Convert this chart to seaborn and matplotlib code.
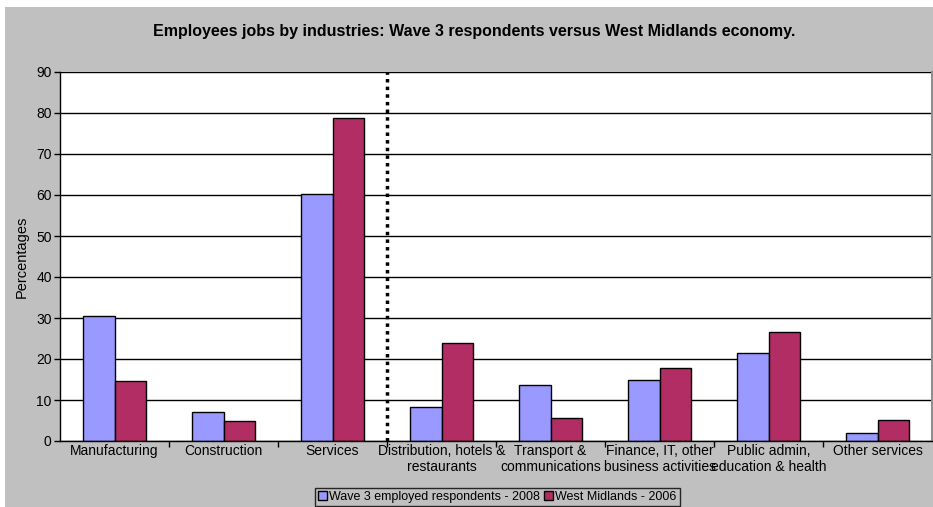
import seaborn as sns
import matplotlib.pyplot as plt
import pandas as pd
from matplotlib.patches import Rectangle

industries = ["Manufacturing", "Construction", "Services", "Distribution, hotels &\nrestaurants",
              "Transport &\ncommunications", "Finance, IT, other\nbusiness activities",
              "Public admin,\neducation & health", "Other services"]
wave3 = [30.6, 7.1, 60.3, 8.4, 13.7, 14.9, 21.5, 1.9]
west_mid = [14.7, 4.9, 78.9, 23.8, 5.6, 17.9, 26.6, 5.1]
series_names = ["Wave 3 employed respondents - 2008", "West Midlands - 2006"]

df = pd.DataFrame({
    "industry": industries * 2,
    "value": wave3 + west_mid,
    "series": [series_names[0]] * len(industries) + [series_names[1]] * len(industries),
})

sns.set_style("white")
plt.rcParams['font.family'] = ['Liberation Sans', 'DejaVu Sans']
plt.rcParams['text.color'] = 'black'
plt.rcParams['axes.labelcolor'] = 'black'
plt.rcParams['xtick.color'] = 'black'
plt.rcParams['ytick.color'] = 'black'

fig = plt.figure(figsize=(9.33, 5.07), dpi=100, facecolor="white")
# grey chart area, white strip on top and left like the source
fig.patches.append(Rectangle((5 / 933, 0), 1, 500 / 507, transform=fig.transFigure,
                             facecolor="#c0c0c0", edgecolor="none", zorder=-10))
ax = fig.add_axes([60 / 933, 66 / 507, 872 / 933, 369 / 507])
ax.set_zorder(1)
ax.set_facecolor("white")

sns.barplot(data=df, x="industry", y="value", hue="series", ax=ax,
            palette=["#9999ff", "#b22d64"], width=0.58, edgecolor="black",
            linewidth=1, saturation=1)

ax.set_ylim(0, 90)
ax.set_yticks(range(0, 91, 10))
ax.set_xlim(-0.5, len(industries) - 0.5)
ax.grid(axis="y", color="black", linewidth=1)
ax.set_axisbelow(True)
ax.spines["top"].set_visible(False)
ax.spines["right"].set_color("#909090")
ax.spines["right"].set_linewidth(1.5)
for s in ["left", "bottom"]:
    ax.spines[s].set_color("black")
    ax.spines[s].set_linewidth(1)

ax.tick_params(axis="y", length=4, width=1, labelsize=10, pad=2, left=True)
ax.tick_params(axis="x", which="major", length=0, labelsize=10, pad=2)
ax.set_xticks([i + 0.5 for i in range(len(industries) - 1)], minor=True)
ax.tick_params(axis="x", which="minor", length=4, width=1, bottom=True)

ax.axvline(2.5, color="black", linestyle=(0, (1, 1.2)), linewidth=2.5)

ax.set_xlabel("")
ax.set_ylabel("Percentages", fontsize=10.5, labelpad=5)
fig.suptitle("Employees jobs by industries: Wave 3 respondents versus West Midlands economy.",
             fontsize=11.5, fontweight="bold", x=0.508, y=0.953)

ax.legend_.remove()
handles, labels = ax.get_legend_handles_labels()
leg = fig.legend(handles, labels, loc="center", bbox_to_anchor=(0.533, 0.02), ncol=2,
                 fontsize=9, frameon=True, fancybox=False, edgecolor="black",
                 handlelength=0.7, handleheight=0.7, handletextpad=0.2, columnspacing=0.3,
                 borderpad=0.25, borderaxespad=0)
leg.get_frame().set_facecolor("#c0c0c0")
leg.get_frame().set_linewidth(1)

fig.savefig("out.png", dpi=100, facecolor=fig.get_facecolor())
